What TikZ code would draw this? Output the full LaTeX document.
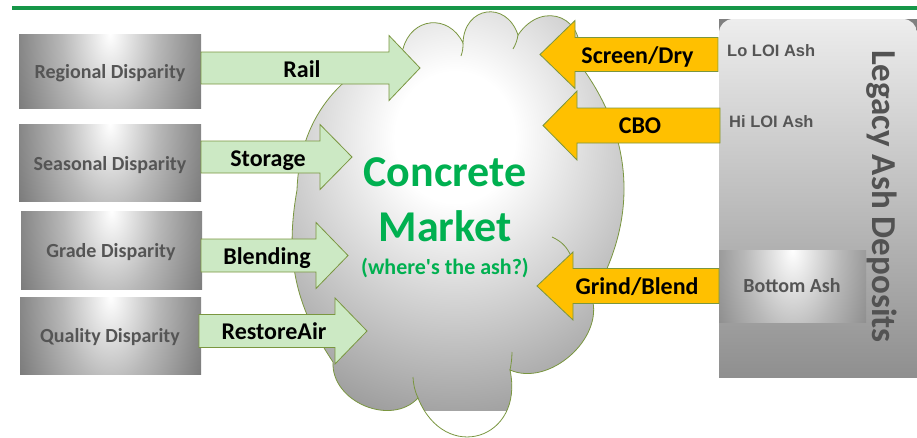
\documentclass[tikz,border=0pt]{standalone}
\usepackage{fontspec}
\setmainfont{Carlito}
\newfontfamily\arialfont{Liberation Sans}
\usetikzlibrary{calc}

\definecolor{topgreen}{RGB}{22,150,72}
\definecolor{edgeolive}{RGB}{122,150,64}
\definecolor{arrowgreen}{RGB}{204,233,196}
\definecolor{arrowgold}{RGB}{255,192,0}
\definecolor{mktgreen}{RGB}{0,176,80}
\definecolor{boxtext}{RGB}{85,85,85}

% soft highlight used inside the grey boxes (bright spot at the top centre);
% the inner 25bp radius spans half of the shaded rectangle
\pgfdeclareradialshading{boxglow}{\pgfpoint{0bp}{0bp}}{%
  color(0bp)=(white); color(11bp)=(black!28); color(25bp)=(black!56); color(50bp)=(black!60)}
% highlight of the market cloud
\pgfdeclareradialshading{cloudglow}{\pgfpoint{0bp}{0bp}}{%
  color(0bp)=(white); color(5bp)=(white); color(25bp)=(black!45); color(50bp)=(black!50)}

% block arrow: style, tail x, neck x, tip x, axis y, shaft half width, head half width
\newcommand{\blockarrow}[7]{%
  \draw[#1] (#2,#5-#6) -- (#3,#5-#6) -- (#3,#5-#7) -- (#4,#5) -- (#3,#5+#7)
    -- (#3,#5+#6) -- (#2,#5+#6) -- cycle;}

\begin{document}
\begin{tikzpicture}[x=1pt,y=-1pt,
  edge/.style={draw=edgeolive, line width=0.8pt},
  greenarrow/.style={fill=arrowgreen, draw=edgeolive, line width=0.8pt},
  goldarrow/.style={fill=arrowgold, draw=edgeolive, line width=0.8pt},
  arrowlabel/.style={anchor=base, inner sep=0pt, text=black,
    font=\fontsize{24}{28}\selectfont\bfseries},
  graylabel/.style={anchor=base, inner sep=0pt, text=boxtext,
    font=\fontsize{20}{24}\selectfont\bfseries},
  ashlabel/.style={anchor=base west, inner sep=0pt, text=boxtext,
    font=\arialfont\fontsize{16.5}{20}\selectfont\bfseries},
  glowbox/.style={rectangle, inner sep=0pt, path picture={
    \shade[shading=boxglow]
      ($(path picture bounding box.north)+(-110,-200)$) rectangle
      ($(path picture bounding box.north)+(110,200)$);}},
  mkt/.style={anchor=base, inner sep=0pt, text=mktgreen}]

\useasboundingbox (0,0) rectangle (917,437);

% rule along the top
\coordinate (ruleL) at (12,8);
\coordinate (ruleR) at (917,8);
\draw[topgreen, line width=4pt] (ruleL) -- (ruleR);

% ---- sources of disparity ----
\node[glowbox, minimum width=182pt, minimum height=74pt] (regional) at (110,71) {};
\node[glowbox, minimum width=182pt, minimum height=77pt] (seasonal) at (110,162.5) {};
\node[glowbox, minimum width=181pt, minimum height=78pt] (grade) at (111.5,250) {};
\node[glowbox, minimum width=181pt, minimum height=77pt] (quality) at (110.5,335.5) {};
\node[graylabel] (regionaltxt) at (110,78.3) {Regional Disparity};
\node[graylabel] (seasonaltxt) at (110,170) {Seasonal Disparity};
\node[graylabel] (gradetxt) at (111,257.3) {Grade Disparity};
\node[graylabel] (qualitytxt) at (110,342.7) {Quality Disparity};

% ---- the market cloud ----
\coordinate (c1) at (297,190);
\coordinate (c2) at (403,49);
\coordinate (c3) at (463,43);
\coordinate (c4) at (518,35);
\coordinate (c5) at (578,62);
\coordinate (c6) at (592,298);
\coordinate (c7) at (510,370);
\coordinate (c8) at (418,398);
\coordinate (c9) at (333,362);
\path[edge, path picture={\shade[shading=cloudglow] (155,-190) rectangle (755,410);}]
  (c1) to[bend left=35] (c2)
  to[bend left=70, looseness=1.4] (c3)
  to[bend left=80, looseness=1.7] (c4)
  to[bend left=80, looseness=1.75] (c5)
  to[bend left=34] (c6)
  to[bend left=65] (c7)
  to[bend left=85, looseness=1.9] (c8)
  to[bend left=70, looseness=1.1] (c9)
  to[bend left=22] (c1) -- cycle;
% inner folds of the cloud
\draw[edge] (c3) to[bend left=10] (461,56);
\draw[edge] (c4) to[bend left=10] (513,49);
\draw[edge] (552,237) to[bend left=20] (571,256);
\draw[edge] (c7) to[bend right=5] (512,352);
\draw[edge] (c8) to[bend left=10] (413,377);

\node[mkt, font=\fontsize{44}{50}\selectfont\bfseries] (concrete) at (445,186.5) {Concrete};
\node[mkt, font=\fontsize{44}{50}\selectfont\bfseries] (market) at (445,241.5) {Market};
\node[mkt, font=\fontsize{22}{26}\selectfont\bfseries] (where) at (445,274.5)
  {(where\textquotesingle s the ash?)};

% ---- legacy ash deposits ----
\node[rectangle, inner sep=0pt, minimum width=198pt, minimum height=358pt,
  path picture={
    \fill[black!50] (path picture bounding box.north west) rectangle
      (path picture bounding box.south east);
    \shade[top color=black!7, bottom color=black!47, rounded corners=14pt]
      (path picture bounding box.north west) rectangle
      ($(path picture bounding box.south east)+(0,30)$);}] (legacy) at (818,198) {};
\node[glowbox, minimum width=147pt, minimum height=72pt] (bottomash) at (792.5,286) {};
\node[graylabel] (bottomashtxt) at (792,292.7) {Bottom Ash};
\node[ashlabel] (loloi) at (727,56) {Lo LOI Ash};
\node[ashlabel] (hiloi) at (729,127.3) {Hi LOI Ash};
\node[anchor=base, inner sep=0pt, rotate=-90, text=black!68,
  font=\fontsize{35}{40}\selectfont\bfseries] (legacytitle) at (872,196.5) {Legacy Ash Deposits};

% ---- remedies feeding the market ----
\blockarrow{greenarrow}{201}{389}{420}{68}{16}{32.5}
\blockarrow{greenarrow}{201}{320}{352}{157}{16}{32.5}
\blockarrow{greenarrow}{201}{316}{348}{255.5}{16.5}{33}
\blockarrow{greenarrow}{199}{335}{367}{331}{16.5}{33}
\node[arrowlabel] (rail) at (302,77) {Rail};
\node[arrowlabel] (storage) at (268,166.7) {Storage};
\node[arrowlabel] (blending) at (267,264) {Blending};
\node[arrowlabel] (restoreair) at (274,339.3) {RestoreAir};

\blockarrow{goldarrow}{718}{575}{540}{54.5}{17}{34}
\blockarrow{goldarrow}{720}{577}{543}{125.5}{17.5}{34.5}
\blockarrow{goldarrow}{719}{573}{537}{286}{17.5}{34}
\node[arrowlabel] (screendry) at (637.5,63) {Screen/Dry};
\node[arrowlabel] (cbo) at (640,133.3) {CBO};
\node[arrowlabel] (grindblend) at (637,294) {Grind/Blend};

\end{tikzpicture}
\end{document}
